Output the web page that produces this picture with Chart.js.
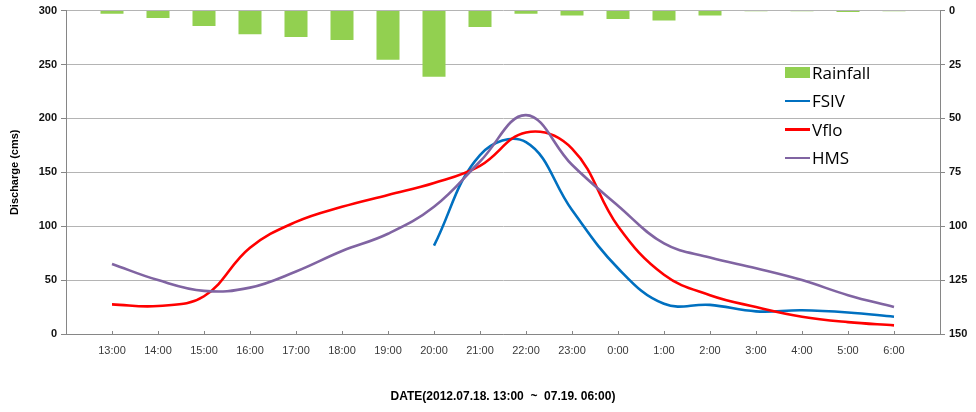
<!DOCTYPE html>
<html>
<head>
<meta charset="utf-8">
<title>Discharge and Rainfall</title>
<script src="https://cdn.jsdelivr.net/npm/chart.js@4.4.1/dist/chart.umd.min.js"></script>
<style>
  html, body { margin: 0; padding: 0; background: #ffffff; }
  #wrap { position: relative; width: 976px; height: 412px; }
  #legend {
    position: absolute; left: 785px; top: 58px;
    font-family: "Open Sans", "Liberation Sans", sans-serif; font-size: 17px; color: #000;
  }
  #legend .row { height: 28.5px; display: flex; align-items: center; }
  #legend .sw { display: inline-block; width: 25px; margin-right: 2px; }
</style>
</head>
<body>
<div id="wrap">
  <canvas id="c" width="976" height="412"></canvas>
  <div id="legend"></div>
</div>
<script>
// Hourly time labels, 2012.07.18 13:00 through 07.19 06:00
const hours = ['13:00', '14:00', '15:00', '16:00', '17:00', '18:00', '19:00', '20:00', '21:00',
               '22:00', '23:00', '0:00', '1:00', '2:00', '3:00', '4:00', '5:00', '6:00'];

// Hourly rainfall (mm), plotted downward from the top on the right axis
const rainfall = [1.5, 3.4, 7.1, 11.0, 12.3, 13.6, 22.8, 30.7, 7.6, 1.5, 2.3, 3.9, 4.6, 2.3, 0.3, 0.3, 0.6, 0.3];

// Discharge (cms) for each model
const fsiv = [null, null, null, null, null, null, null, 82, 166, 178, 115, 61, 28, 27, 21, 22, 20, 16];
const vflo = [27.5, 26, 35, 80, 104, 118, 129, 140, 156, 187, 172, 100, 55, 36, 25, 16, 11, 8];
const hms  = [65, 50, 40, 43, 58, 77, 93, 118, 160, 203, 157, 119, 84, 71, 61, 50, 36, 25];

// Axis tick values
const dischargeTicks = [0, 50, 100, 150, 200, 250, 300];
const rainfallTicks = [0, 25, 50, 75, 100, 125, 150];

const seriesColors = { rainfall: '#92D050', fsiv: '#0070C0', vflo: '#FF0000', hms: '#8064A2' };

// One empty slot on each side of the hours so the axis runs past the first and last hour
const pad = arr => [null, ...arr, null];
const labels = ['', ...hours, ''];

const axisColor = '#868686';
const gridColor = '#b4b4b4';
const tickFont = { family: '"Liberation Sans", Arial, sans-serif', size: 11, weight: 'bold' };

// Short tick marks on the inner side of the time axis
const innerTicks = {
  id: 'innerTicks',
  afterDraw(chart) {
    const xs = chart.scales.x;
    const ctx = chart.ctx;
    ctx.save();
    ctx.strokeStyle = axisColor;
    ctx.lineWidth = 1;
    for (let i = 0; i < xs.ticks.length; i++) {
      const px = Math.round(xs.getPixelForTick(i)) + 0.5;
      ctx.beginPath();
      ctx.moveTo(px, xs.top);
      ctx.lineTo(px, xs.top - 3);
      ctx.stroke();
    }
    ctx.restore();
  }
};

new Chart(document.getElementById('c'), {
  data: {
    labels: labels,
    datasets: [
      {
        type: 'bar', label: 'Rainfall', data: pad(rainfall), yAxisID: 'y1',
        backgroundColor: seriesColors.rainfall, borderWidth: 0,
        categoryPercentage: 1.0, barPercentage: 0.5, order: 4
      },
      {
        type: 'line', label: 'FSIV', data: pad(fsiv), yAxisID: 'y',
        borderColor: seriesColors.fsiv, borderWidth: 2.6, pointRadius: 0, tension: 0.4,
        fill: false, order: 3
      },
      {
        type: 'line', label: 'Vflo', data: pad(vflo), yAxisID: 'y',
        borderColor: seriesColors.vflo, borderWidth: 2.6, pointRadius: 0, tension: 0.4,
        fill: false, order: 2
      },
      {
        type: 'line', label: 'HMS', data: pad(hms), yAxisID: 'y',
        borderColor: seriesColors.hms, borderWidth: 2.6, pointRadius: 0, tension: 0.4,
        fill: false, order: 1
      }
    ]
  },
  options: {
    responsive: false,
    animation: false,
    devicePixelRatio: 1,
    layout: { padding: { top: 10, left: 0, right: 0, bottom: 0 } },
    plugins: {
      legend: { display: false },
      tooltip: { enabled: false }
    },
    scales: {
      x: {
        type: 'category',
        offset: false,
        grid: { drawOnChartArea: false, drawTicks: false },
        border: { color: axisColor },
        ticks: {
          autoSkip: false, maxRotation: 0, padding: 10,
          color: '#3a3a3a',
          font: { family: '"Liberation Sans", Arial, sans-serif', size: 11 }
        },
        title: {
          display: true,
          text: 'DATE(2012.07.18. 13:00  ~  07.19. 06:00)',
          color: '#000',
          font: { family: '"Liberation Sans", Arial, sans-serif', size: 12, weight: 'bold' },
          padding: { top: 0, bottom: 8 }
        },
        afterFit(scale) { scale.height = 78; }
      },
      y: {
        position: 'left',
        min: 0, max: 300,
        afterBuildTicks(scale) { scale.ticks = dischargeTicks.map(v => ({ value: v })); },
        grid: { color: gridColor, tickLength: 5, tickColor: axisColor },
        border: { color: axisColor },
        ticks: { color: '#111', font: tickFont, padding: 4 },
        title: {
          display: true,
          text: 'Discharge (cms)',
          color: '#000',
          font: { family: '"Liberation Sans", Arial, sans-serif', size: 11, weight: 'bold' },
          padding: { top: 8, bottom: 0 }
        },
        afterFit(scale) { scale.width = 66; }
      },
      y1: {
        position: 'right',
        reverse: true,
        min: 0, max: 150,
        afterBuildTicks(scale) { scale.ticks = rainfallTicks.map(v => ({ value: v })); },
        grid: { drawOnChartArea: false, tickLength: 5, color: axisColor },
        border: { color: axisColor },
        ticks: { color: '#111', font: tickFont, padding: 4 },
        afterFit(scale) { scale.width = 36; }
      }
    }
  },
  plugins: [innerTicks]
});

// Legend drawn as plain HTML inside the plot area
const legendItems = [
  { name: 'Rainfall', color: seriesColors.rainfall, kind: 'box' },
  { name: 'FSIV', color: seriesColors.fsiv, kind: 'line' },
  { name: 'Vflo', color: seriesColors.vflo, kind: 'line' },
  { name: 'HMS', color: seriesColors.hms, kind: 'line' }
];
const legendEl = document.getElementById('legend');
legendItems.forEach(item => {
  const row = document.createElement('div');
  row.className = 'row';
  const sw = document.createElement('span');
  sw.className = 'sw';
  sw.style.height = item.kind === 'box' ? '11px' : '2.5px';
  sw.style.background = item.color;
  const txt = document.createElement('span');
  txt.textContent = item.name;
  row.appendChild(sw);
  row.appendChild(txt);
  legendEl.appendChild(row);
});
</script>
</body>
</html>
